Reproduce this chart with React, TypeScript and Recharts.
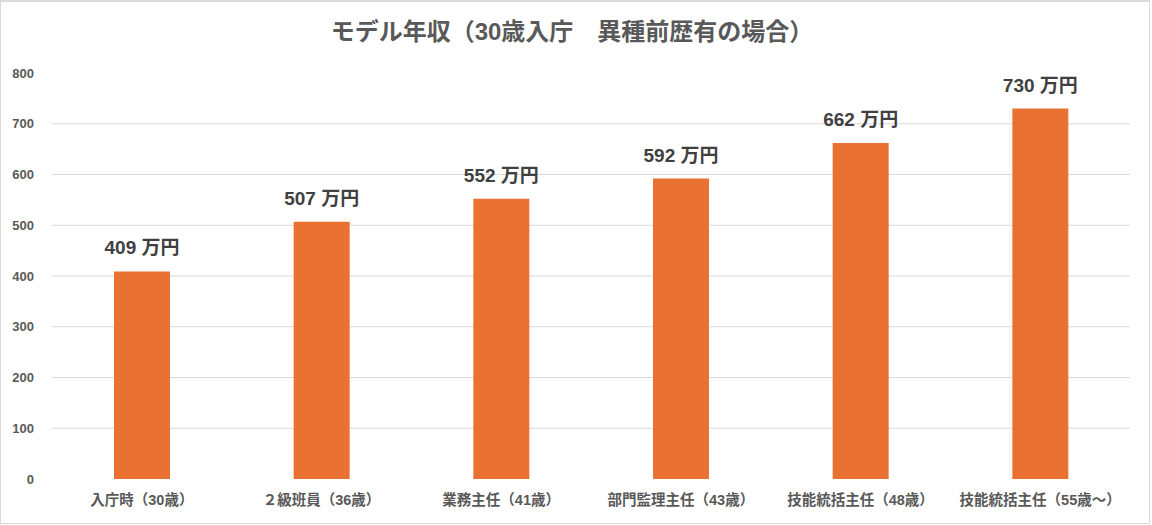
import { BarChart, Bar, XAxis, YAxis, CartesianGrid, LabelList } from "recharts";

const categories = [
  "入庁時（30歳）",
  "２級班員（36歳）",
  "業務主任（41歳）",
  "部門監理主任（43歳）",
  "技能統括主任（48歳）",
  "技能統括主任（55歳～）",
];
const salaries = [409, 507, 552, 592, 662, 730];
const yTicks = [0, 100, 200, 300, 400, 500, 600, 700, 800];
const gridValues = [100, 200, 300, 400, 500, 600, 700];

const data = categories.map((name, i) => ({ name, value: salaries[i] }));

const FONT = "'Liberation Sans', 'Noto Sans CJK JP', sans-serif";

// value label above each bar, kept on one line
const renderValue = (props: any) => {
  const { x, y, width, value } = props;
  return (
    <text
      x={x + width / 2}
      y={y - 17}
      textAnchor="middle"
      fill="#404040"
      fontSize={19}
      fontWeight="bold"
      fontFamily={FONT}
    >
      {`${value} 万円`}
    </text>
  );
};

export default function App() {
  return (
    <div
      style={{
        position: "fixed",
        left: 0,
        top: 0,
        width: 1152,
        height: 525,
        background: "#fff",
        fontFamily: FONT,
      }}
    >
      <div
        style={{
          position: "absolute",
          left: 0,
          top: 0,
          width: 1148,
          height: 521,
          border: "1px solid #d9d9d9",
          borderTopWidth: 2,
        }}
      />
      <div
        style={{
          position: "absolute",
          top: 12,
          left: 0,
          width: 1144,
          textAlign: "center",
          fontSize: 24,
          fontWeight: "bold",
          color: "#595959",
        }}
      >
        モデル年収（30歳入庁　異種前歴有の場合）
      </div>
      <BarChart
        width={1152}
        height={525}
        data={data}
        margin={{ top: 73, right: 22, bottom: 0, left: 0 }}
        style={{ position: "absolute", left: 0, top: 0 }}
      >
        <CartesianGrid vertical={false} stroke="#d9d9d9" horizontalValues={gridValues} />
        <XAxis
          dataKey="name"
          height={46}
          axisLine={false}
          tickLine={false}
          tickSize={0}
          tickMargin={16}
          interval={0}
          tick={{ fill: "#595959", fontSize: 14.5, fontWeight: "bold", fontFamily: FONT }}
        />
        <YAxis
          width={52}
          domain={[0, 800]}
          ticks={yTicks}
          axisLine={false}
          tickLine={false}
          tickSize={0}
          tickMargin={18}
          tick={{ fill: "#595959", fontSize: 13, fontWeight: "bold", fontFamily: FONT }}
        />
        <Bar dataKey="value" fill="#E97132" barSize={56} isAnimationActive={false}>
          <LabelList dataKey="value" content={renderValue} />
        </Bar>
      </BarChart>
    </div>
  );
}
